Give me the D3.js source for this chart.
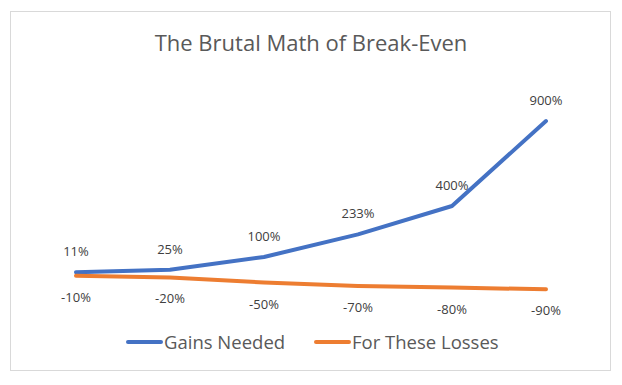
<!DOCTYPE html>
<html>
<head>
<meta charset="utf-8">
<script src="https://cdn.jsdelivr.net/npm/d3@7"></script>
<style>
  body { margin: 0; background: #fff; }
  svg { font-family: "Open Sans", Calibri, "Liberation Sans", sans-serif; }
</style>
</head>
<body>
<svg id="chart" width="622" height="385"></svg>
<script>
var categories = ["a", "b", "c", "d", "e", "f"];
var gainsNeeded = [11, 25, 100, 233, 400, 900];
var forTheseLosses = [-10, -20, -50, -70, -80, -90];
var seriesNames = ["Gains Needed", "For These Losses"];
var seriesColors = ["#4472C4", "#ED7D31"];

var svg = d3.select("#chart");

// outer chart frame
svg.append("rect")
  .attr("x", 10.5).attr("y", 11.5)
  .attr("width", 600).attr("height", 359)
  .attr("fill", "#fff").attr("stroke", "#d9d9d9");

svg.append("text")
  .attr("x", 311).attr("y", 51)
  .attr("text-anchor", "middle")
  .attr("font-size", 22)
  .attr("fill", "#595959")
  .text("The Brutal Math of Break-Even");

var x = d3.scalePoint().domain(categories).range([76, 546]);
var y = d3.scaleLinear().domain([-200, 1000]).range([308, 104]);

var line = d3.line()
  .x(function(d, i) { return x(categories[i]); })
  .y(function(d) { return y(d); });

var series = [gainsNeeded, forTheseLosses];

series.forEach(function(vals, s) {
  svg.append("path")
    .datum(vals)
    .attr("d", line)
    .attr("fill", "none")
    .attr("stroke", seriesColors[s])
    .attr("stroke-width", 4)
    .attr("stroke-linecap", "round")
    .attr("stroke-linejoin", "round");
});

// data labels: gains above, losses below
series.forEach(function(vals, s) {
  svg.selectAll("text.lbl" + s)
    .data(vals)
    .enter().append("text")
    .attr("class", "lbl" + s)
    .attr("x", function(d, i) { return x(categories[i]); })
    .attr("y", function(d) { return s === 0 ? y(d) - 16 : y(d) + 26; })
    .attr("text-anchor", "middle")
    .attr("font-size", 13)
    .attr("fill", "#404040")
    .text(function(d) { return d + "%"; });
});

// legend
var legendX = [128, 316];
seriesNames.forEach(function(name, s) {
  var g = svg.append("g").attr("transform", "translate(" + legendX[s] + ",342)");
  g.append("line")
    .attr("x1", 0).attr("x2", 33)
    .attr("stroke", seriesColors[s]).attr("stroke-width", 4)
    .attr("stroke-linecap", "round");
  g.append("text")
    .attr("x", 36).attr("y", 7)
    .attr("font-size", 18.5)
    .attr("fill", "#595959")
    .text(name);
});
</script>
</body>
</html>
